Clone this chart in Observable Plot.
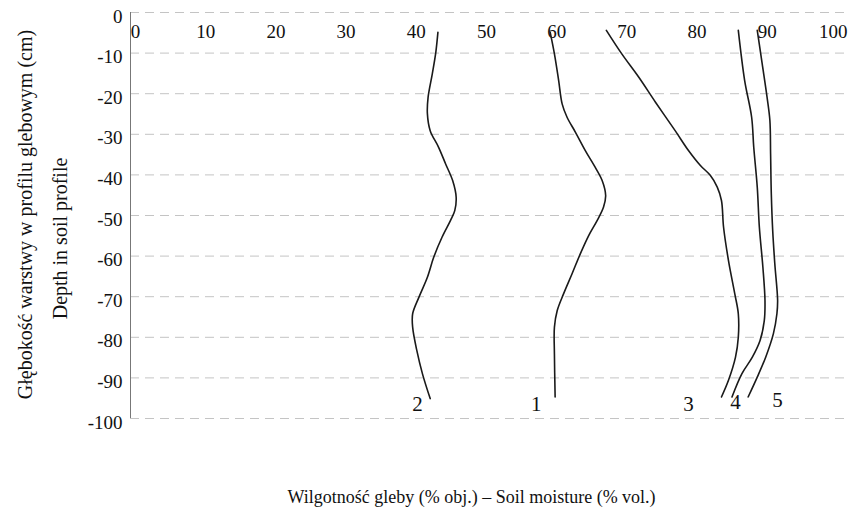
<!DOCTYPE html>
<html><head><meta charset="utf-8">
<script src="https://cdn.jsdelivr.net/npm/d3@7"></script>
<script src="https://cdn.jsdelivr.net/npm/@observablehq/plot@0.6"></script>
<style>body{margin:0;background:#fff}svg{display:block}svg text{font-family:"Liberation Serif","DejaVu Serif",serif}</style>
</head><body><div id="chart"></div>
<script>
// Soil moisture (% vol.) vs depth (cm), five profiles
const curve1Moisture = [58.8, 59.4, 60.0, 60.5, 61.2, 62.4, 63.8, 65.2, 66.2, 66.7, 66.4, 65.5, 64.3, 63.1, 61.9, 60.7, 59.8, 59.4, 59.4, 59.5];
const curve1Depth    = [-4.9, -10.2, -16.7, -22.5, -25.8, -29.5, -34.0, -38.1, -41.4, -45.1, -47.9, -51.2, -54.9, -59.4, -64.4, -69.3, -73.4, -77.5, -84.1, -94.7];
const curve2Moisture = [42.8, 42.5, 42.0, 41.4, 41.3, 41.7, 42.9, 43.9, 44.9, 45.4, 45.2, 44.6, 43.4, 42.2, 41.3, 40.1, 39.2, 39.2, 39.8, 40.6, 41.7];
const curve2Depth    = [-4.9, -9.8, -15.1, -20.9, -24.9, -29.1, -33.2, -37.3, -41.4, -45.5, -48.8, -51.2, -55.3, -60.3, -65.2, -70.1, -74.2, -77.5, -83.3, -89.0, -95.1];
const curve3Moisture = [66.8, 69.0, 71.4, 73.8, 76.6, 78.5, 80.2, 81.6, 82.6, 83.2, 83.5, 84.2, 85.1, 85.6, 85.6, 85.2, 84.2, 83.2];
const curve3Depth    = [-4.4, -10.2, -15.9, -22.1, -29.1, -34.0, -37.7, -40.1, -43.0, -46.3, -52.9, -61.1, -69.3, -74.2, -80.0, -84.9, -90.6, -94.7];
const curve4Moisture = [85.6, 86.5, 87.5, 87.8, 88.3, 88.6, 89.1, 89.4, 89.3, 88.7, 87.6, 86.1, 84.7];
const curve4Depth    = [-4.4, -16.7, -25.8, -33.2, -43.0, -52.9, -62.7, -70.9, -75.9, -80.8, -84.9, -89.0, -94.7];
const curve5Moisture = [88.3, 89.0, 89.7, 90.1, 90.2, 90.3, 90.5, 90.8, 91.2, 91.1, 90.6, 89.5, 88.3, 87.0];
const curve5Depth    = [-4.4, -12.6, -20.9, -26.6, -34.8, -44.6, -53.7, -61.9, -70.9, -74.2, -79.1, -84.9, -89.8, -94.7];

const labelNames    = ["2", "1", "3", "4", "5"];
const labelMoisture = [39.9, 56.8, 78.5, 85.2, 91.2];
const labelDepth    = [-96.4, -96.4, -96.4, -96.0, -95.6];

const xTicks = [0, 10, 20, 30, 40, 50, 60, 70, 80, 90, 100];
const yTicks = [0, -10, -20, -30, -40, -50, -60, -70, -80, -90, -100];

const yTitle1 = "Głębokość warstwy w profilu glebowym (cm)";
const yTitle2 = "Depth in soil profile";
const xTitle = "Wilgotność gleby (% obj.) – Soil moisture (% vol.)";

const series = [
  ["1", curve1Moisture, curve1Depth],
  ["2", curve2Moisture, curve2Depth],
  ["3", curve3Moisture, curve3Depth],
  ["4", curve4Moisture, curve4Depth],
  ["5", curve5Moisture, curve5Depth]
];
const rows = series.flatMap(([name, m, d]) => m.map((v, i) => ({name, moisture: v, depth: d[i]})));
const labels = labelNames.map((n, i) => ({name: n, moisture: labelMoisture[i], depth: labelDepth[i]}));

const font = "Liberation Serif";
const ink = "#111";

const chart = Plot.plot({
  width: 848,
  height: 513,
  marginLeft: 130,
  marginRight: 0,
  marginTop: 12,
  marginBottom: 95,
  style: {background: "#fff", color: ink},
  x: {domain: [-1, 101.3], axis: null},
  y: {domain: [-100, 0], axis: null},
  marks: [
    Plot.ruleY(yTicks, {stroke: "#c4c4c4", strokeWidth: 1, strokeDasharray: "9,6"}),
    Plot.ruleX([-1], {stroke: "#777", strokeWidth: 1}),
    Plot.text(xTicks.filter(d => d < 100), {x: d => d, frameAnchor: "top", lineAnchor: "middle", dx: -2, dy: 19, text: d => String(d), fontSize: 19, fontFamily: font, fill: ink}),
    Plot.text(xTicks.filter(d => d === 100), {x: d => d, frameAnchor: "top", lineAnchor: "middle", textAnchor: "end", dx: 8, dy: 19, text: d => String(d), fontSize: 19, fontFamily: font, fill: ink}),
    Plot.text(yTicks, {y: d => d, frameAnchor: "left", textAnchor: "end", lineAnchor: "middle", dx: -8, dy: 4, text: d => String(d), fontSize: 19, fontFamily: font, fill: ink}),
    Plot.line(rows, {x: "moisture", y: "depth", z: "name", curve: "catmull-rom", stroke: "#1a1a1a", strokeWidth: 1.6}),
    Plot.text(labels, {x: "moisture", y: "depth", text: "name", fontSize: 21, fontFamily: font, fill: ink}),
    Plot.text([yTitle1], {frameAnchor: "left", textAnchor: "middle", lineAnchor: "middle", rotate: -90, dx: -105, dy: -1, text: d => d, fontSize: 20, fontFamily: font, fill: ink}),
    Plot.text([yTitle2], {frameAnchor: "left", textAnchor: "middle", lineAnchor: "middle", rotate: -90, dx: -70, dy: 23, text: d => d, fontSize: 20, fontFamily: font, fill: ink}),
    Plot.text([xTitle], {frameAnchor: "bottom", textAnchor: "middle", lineAnchor: "middle", dx: -18, dy: 79, text: d => d, fontSize: 18, fontFamily: font, fill: ink})
  ]
});
document.getElementById("chart").appendChild(chart);
</script>
</body></html>
